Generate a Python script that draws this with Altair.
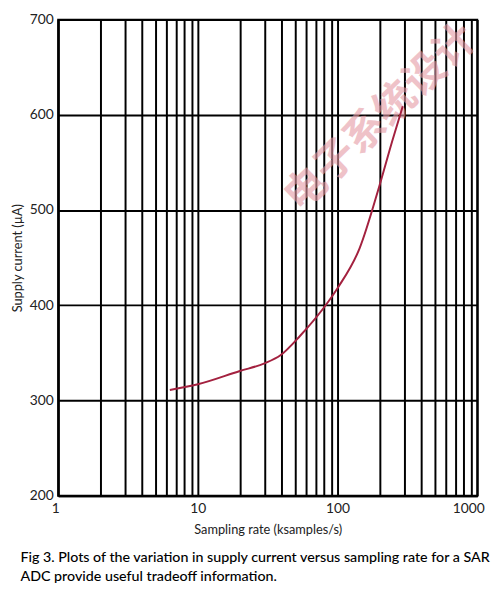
import altair as alt
import pandas as pd

# Data
rate = [6.3, 10, 20, 30, 39, 54, 86, 101, 144, 199, 247, 293]
current = [311, 317, 331, 339, 347.5, 368, 404, 419, 460, 525, 573, 609]

x_ticks = [1, 2, 3, 4, 5, 6, 7, 8, 9, 10,
           20, 30, 40, 50, 60, 70, 80, 90, 100,
           200, 300, 400, 500, 600, 700, 800, 900, 1000]
y_ticks = [200, 300, 400, 500, 600, 700]

caption = ["Fig 3. Plots of the variation in supply current versus sampling rate for a SAR",
           "ADC provide useful tradeoff information."]
watermark = "电子系统设计"

df = pd.DataFrame({"rate": rate, "current": current})

FONT = "Lato"

line = alt.Chart(df).mark_line(color="#a3213f", strokeWidth=2, interpolate="monotone").encode(
    x=alt.X("rate:Q",
            scale=alt.Scale(type="log", domain=[1, 1000], nice=False),
            axis=alt.Axis(values=x_ticks, format="d",
                          labelExpr="indexof([1,10,100,1000], datum.value) >= 0 ? datum.label : ''",
                          title="Sampling rate (ksamples/s)",
                          labelFlush=True, labelFlushOffset=7,
                          labelPadding=6, titlePadding=8)),
    y=alt.Y("current:Q",
            scale=alt.Scale(domain=[200, 700], nice=False, zero=False),
            axis=alt.Axis(values=y_ticks, title="Supply current (µA)",
                          labelPadding=5, titlePadding=5)),
)

wm = alt.Chart(pd.DataFrame({"t": [watermark]})).mark_text(
    angle=316, fontSize=42, color="#e59aa5", opacity=0.6, font="Noto Sans CJK SC",
    fontWeight="bold"
).encode(text="t:N", x=alt.value(328), y=alt.value(100))

chart = alt.layer(wm, line).properties(
    width=426, height=484,
    background="white",
    padding={"left": 3, "top": 0, "right": 0, "bottom": 0},
    title=alt.TitleParams(caption, orient="bottom", anchor="start", frame="bounds",
                          font=FONT, fontSize=14.5, fontWeight=500, color="black",
                          offset=15, dx=9, lineHeight=20),
).configure_view(stroke="black", strokeWidth=2).configure_axis(
    grid=True, gridColor="black", gridWidth=2, gridOpacity=1,
    domainColor="black", domainWidth=2, ticks=False, tickSize=0,
    labelFont=FONT, labelFontSize=14, labelColor="#222",
    titleFont=FONT, titleFontSize=13, titleFontWeight="normal", titleColor="#222",
)

chart.save("out.html", embed_options={"renderer": "svg", "actions": False})
